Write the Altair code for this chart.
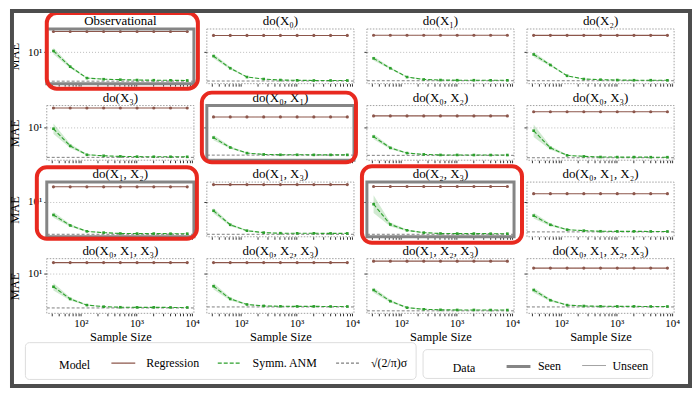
import math
import altair as alt
import pandas as pd

SERIF = "'Liberation Serif', 'Times New Roman', 'DejaVu Serif', serif"

# ---------------- data ----------------
sizes = [32, 64, 128, 256, 512, 1024, 2048, 4096, 8192]

titles = ["Observational", "do(X₀)", "do(X₁)", "do(X₂)",
          "do(X₃)", "do(X₀, X₁)", "do(X₀, X₂)", "do(X₀, X₃)",
          "do(X₁, X₂)", "do(X₁, X₃)", "do(X₂, X₃)", "do(X₀, X₁, X₂)",
          "do(X₀, X₁, X₃)", "do(X₀, X₂, X₃)", "do(X₁, X₂, X₃)", "do(X₀, X₁, X₂, X₃)"]

seen = [True, False, False, False,
        False, True, False, False,
        True, False, True, False,
        False, False, False, False]

regression_mae = [32.1, 25.7, 25.9, 25.8,
                  28.1, 17.5, 18.5, 23.1,
                  20.6, 23.0, 20.9, 14.7,
                  16.4, 16.4, 17.5, 12.9]

anm_mae = [
    [10.7, 4.42, 2.32, 2.18, 2.12, 2.08, 2.06, 2.05, 2.03],
    [8.01, 4.05, 2.46, 2.20, 2.08, 2.05, 2.03, 2.03, 2.03],
    [7.05, 4.05, 2.46, 2.15, 2.08, 2.06, 2.06, 2.05, 2.05],
    [8.80, 4.86, 2.64, 2.20, 2.12, 2.08, 2.06, 2.06, 2.05],
    [9.34, 3.75, 2.34, 2.22, 2.15, 2.12, 2.11, 2.11, 2.10],
    [5.83, 3.45, 2.56, 2.39, 2.34, 2.34, 2.33, 2.33, 2.33],
    [6.14, 3.38, 2.56, 2.39, 2.32, 2.32, 2.31, 2.31, 2.31],
    [8.41, 3.38, 2.27, 2.15, 2.08, 2.07, 2.07, 2.06, 2.06],
    [5.17, 3.09, 2.31, 2.17, 2.08, 2.07, 2.07, 2.06, 2.06],
    [6.36, 3.19, 2.39, 2.17, 2.11, 2.10, 2.10, 2.09, 2.09],
    [8.78, 3.24, 2.43, 2.17, 2.08, 2.07, 2.07, 2.06, 2.06],
    [5.00, 3.19, 2.51, 2.39, 2.32, 2.31, 2.31, 2.30, 2.30],
    [5.72, 3.36, 2.57, 2.40, 2.34, 2.33, 2.33, 2.32, 2.32],
    [5.86, 3.36, 2.64, 2.48, 2.44, 2.43, 2.43, 2.42, 2.42],
    [4.96, 3.05, 2.30, 2.14, 2.09, 2.08, 2.08, 2.07, 2.07],
    [4.96, 3.18, 2.57, 2.47, 2.44, 2.43, 2.43, 2.42, 2.42],
]

# multiplicative half-width of the shaded band around Symm. ANM
anm_spread = [
    [1.20, 1.09, 1.03, 1.02, 1.01, 1.01, 1.01, 1.01, 1.01],
    [1.15, 1.07, 1.03, 1.02, 1.01, 1.01, 1.01, 1.01, 1.01],
    [1.12, 1.06, 1.03, 1.02, 1.01, 1.01, 1.01, 1.01, 1.01],
    [1.15, 1.07, 1.03, 1.02, 1.01, 1.01, 1.01, 1.01, 1.01],
    [1.33, 1.12, 1.04, 1.02, 1.01, 1.01, 1.01, 1.01, 1.01],
    [1.15, 1.07, 1.03, 1.02, 1.01, 1.01, 1.01, 1.01, 1.01],
    [1.15, 1.07, 1.03, 1.02, 1.01, 1.01, 1.01, 1.01, 1.01],
    [1.40, 1.10, 1.04, 1.02, 1.01, 1.01, 1.01, 1.01, 1.01],
    [1.15, 1.07, 1.03, 1.02, 1.01, 1.01, 1.01, 1.01, 1.01],
    [1.15, 1.07, 1.03, 1.02, 1.01, 1.01, 1.01, 1.01, 1.01],
    [1.55, 1.10, 1.04, 1.02, 1.01, 1.01, 1.01, 1.01, 1.01],
    [1.15, 1.07, 1.03, 1.02, 1.01, 1.01, 1.01, 1.01, 1.01],
    [1.18, 1.07, 1.03, 1.02, 1.01, 1.01, 1.01, 1.01, 1.01],
    [1.15, 1.07, 1.03, 1.02, 1.01, 1.01, 1.01, 1.01, 1.01],
    [1.12, 1.06, 1.03, 1.02, 1.01, 1.01, 1.01, 1.01, 1.01],
    [1.12, 1.06, 1.03, 1.02, 1.01, 1.01, 1.01, 1.01, 1.01],
]

baseline_mae = [1.95, 1.97, 2.00, 2.00,
                2.04, 2.30, 2.27, 2.00,
                2.00, 2.00, 2.00, 2.25,
                2.27, 2.37, 2.00, 2.37]

x_tick_values = [30, 40, 50, 60, 70, 80, 90,
                 100, 200, 300, 400, 500, 600, 700, 800, 900,
                 1000, 2000, 3000, 4000, 5000, 6000, 7000, 8000, 9000, 10000]

SIGMA = "√(2/π)σ"
models = ["Regression", "Symm. ANM", SIGMA]
model_colors = ["#8c564b", "#2ca02c", "#7f7f7f"]
model_dashes = [[1, 0], [4, 2], [3, 2]]
data_kinds = ["Seen", "Unseen"]
data_colors = ["#858585", "#8a8a8a"]
data_widths = [3, 0.8]

# ---------------- layout / style ----------------
W, H = 148, 55
RED = "#e8291f"
BLANK = "\u2800"  # blank glyph used to indent legend titles (not trimmed)
# red annotation boxes (panel index -> left, right, top, bottom offsets)
red_boxes = {0: (0, 4, -16, 5), 5: (-5, 2, -13, 2), 8: (-10, 3, -15, 2), 10: (-5, 8, -16, 6)}


def log_pad(lo, hi, frac=0.05):
    a, b = math.log10(lo), math.log10(hi)
    p = (b - a) * frac
    return [10 ** (a - p), 10 ** (b + p)]


x_domain = log_pad(min(sizes), max(sizes))


def row_domain(r):
    idx = range(4 * r, 4 * r + 4)
    lo = min(min(baseline_mae[i], min(a / s for a, s in zip(anm_mae[i], anm_spread[i]))) for i in idx)
    hi = max(max(regression_mae[i], max(a * s for a, s in zip(anm_mae[i], anm_spread[i]))) for i in idx)
    return log_pad(lo, hi)


model_legend = alt.Legend(
    title=BLANK * 3 + "Model", orient="none", legendX=-22, legendY=315, direction="horizontal",
    titleOrient="left", titleAnchor="middle", titleBaseline="top",
    symbolType="stroke", symbolSize=576, symbolStrokeWidth=1.3,
    columnPadding=15, labelOffset=10, titlePadding=20, padding=8, gridAlign="none",
    strokeColor="#dddddd", cornerRadius=4, fillColor="white",
)
data_legend = alt.Legend(
    title=BLANK * 3 + "Data", orient="none", legendX=378, legendY=322, direction="horizontal",
    titleOrient="left", titleAnchor="middle", titleBaseline="top",
    symbolType="stroke", symbolSize=576, gridAlign="none",
    columnPadding=18, labelOffset=6, titlePadding=29, padding=4,
    strokeColor="#dddddd", cornerRadius=4, fillColor="white",
)

color_enc = alt.Color("Model:N", scale=alt.Scale(domain=models, range=model_colors), legend=model_legend)
dash_enc = alt.StrokeDash("Model:N", scale=alt.Scale(domain=models, range=model_dashes), legend=model_legend)
stroke_enc = alt.Stroke("Data:O", scale=alt.Scale(domain=data_kinds, range=data_colors), legend=data_legend)
width_enc = alt.StrokeWidth("Data:O", scale=alt.Scale(domain=data_kinds, range=data_widths), legend=data_legend)


def panel(i):
    row, col = divmod(i, 4)
    ydom = row_domain(row)
    yscale = alt.Scale(type="log", domain=ydom, nice=False)
    xscale = alt.Scale(type="log", domain=x_domain, nice=False)

    if row == 3:
        xaxis = alt.Axis(values=x_tick_values, title="Sample Size", tickSize=2.5,
                         labelExpr="datum.value == 100 ? '10²' : datum.value == 1000 ? '10³' : datum.value == 10000 ? '10⁴' : ''",
                         labelOverlap=False, labelFlush=False, grid=False, titlePadding=2)
    else:
        xaxis = alt.Axis(values=x_tick_values, title=None, labels=False, tickSize=2.5, grid=False)
    if col == 0:
        yaxis = alt.Axis(values=[10], title="MAE", labelExpr="'10¹'", tickSize=3,
                         grid=True, gridDash=[1, 2], gridColor="#bbbbbb", titlePadding=6)
    else:
        yaxis = alt.Axis(values=[10], title=None, labels=False, tickSize=3,
                         grid=True, gridDash=[1, 2], gridColor="#bbbbbb")

    lines_df = pd.DataFrame({
        "n": sizes * 2,
        "mae": [regression_mae[i]] * len(sizes) + anm_mae[i],
        "Model": ["Regression"] * len(sizes) + ["Symm. ANM"] * len(sizes),
    })
    band_df = pd.DataFrame({
        "n": sizes,
        "lo": [a / s for a, s in zip(anm_mae[i], anm_spread[i])],
        "hi": [a * s for a, s in zip(anm_mae[i], anm_spread[i])],
    })
    base_df = pd.DataFrame({"mae": [baseline_mae[i]], "Model": [SIGMA]})
    frame_df = pd.DataFrame({"Data": ["Seen" if seen[i] else "Unseen"], "title": [titles[i]]})

    band = alt.Chart(band_df).mark_area(color="#2ca02c", opacity=0.22).encode(
        x=alt.X("n:Q", scale=xscale, axis=xaxis),
        y=alt.Y("lo:Q", scale=yscale, axis=yaxis),
        y2="hi:Q",
    )
    base = alt.Chart(base_df).mark_rule(strokeWidth=1).encode(
        y=alt.Y("mae:Q", scale=yscale, axis=yaxis), color=color_enc, strokeDash=dash_enc,
    )
    lines = alt.Chart(lines_df).mark_line(strokeWidth=1.1).encode(
        x=alt.X("n:Q", scale=xscale, axis=xaxis),
        y=alt.Y("mae:Q", scale=yscale, axis=yaxis),
        color=color_enc, strokeDash=dash_enc,
    )
    reg_pts = alt.Chart(lines_df[lines_df.Model == "Regression"]).mark_circle(size=10, opacity=1, color=model_colors[0]).encode(
        x=alt.X("n:Q", scale=xscale, axis=xaxis), y=alt.Y("mae:Q", scale=yscale, axis=yaxis),
    )
    anm_pts = alt.Chart(lines_df[lines_df.Model == "Symm. ANM"]).mark_point(shape="square", filled=True, size=7, opacity=1, color=model_colors[1]).encode(
        x=alt.X("n:Q", scale=xscale, axis=xaxis), y=alt.Y("mae:Q", scale=yscale, axis=yaxis),
    )
    if seen[i]:
        frame_mark = alt.Chart(frame_df).mark_rect(filled=False)
    else:
        frame_mark = alt.Chart(frame_df).mark_rect(filled=False, strokeDash=[1.5, 1.5])
    frame = frame_mark.encode(
        x=alt.value(0), x2=alt.value(W), y=alt.value(0), y2=alt.value(H),
        stroke=stroke_enc, strokeWidth=width_enc,
    )
    title = alt.Chart(frame_df).mark_text(font=SERIF, fontSize=13, color="black", baseline="alphabetic", align="center").encode(
        x=alt.value(W / 2), y=alt.value(-4), text="title:N",
    )
    layers = [band, base, lines, reg_pts, anm_pts, frame, title]
    if i in red_boxes:
        l, r, t, b = red_boxes[i]
        layers.append(alt.Chart(frame_df).mark_rect(filled=False, stroke=RED, strokeWidth=4, cornerRadius=10).encode(
            x=alt.value(l), x2=alt.value(W + r), y=alt.value(t), y2=alt.value(H + b)))
    if i == 0:
        layers.append(alt.Chart(frame_df).mark_rect(filled=False, stroke="#4d4d4d", strokeWidth=4).encode(
            x=alt.value(-35), x2=alt.value(647), y=alt.value(-18), y2=alt.value(359)))
    return alt.layer(*layers).properties(width=W, height=H)


panels = [panel(i) for i in range(16)]

chart = alt.concat(*panels, columns=4, spacing={"row": 22, "column": 13}, bounds="flush").properties(
    padding=0
).configure_view(strokeWidth=0).configure_axis(
    labelFont=SERIF, titleFont=SERIF, labelFontSize=11, titleFontSize=12.5,
    titleFontWeight="normal", labelColor="black", titleColor="black",
    tickColor="#333333", domain=False,
).configure_legend(
    labelFont=SERIF, titleFont=SERIF, labelFontSize=12, titleFontSize=12,
    titleFontWeight="normal", labelColor="black", titleColor="black",
)

chart.save("out.html", embed_options={"renderer": "svg", "actions": False})
